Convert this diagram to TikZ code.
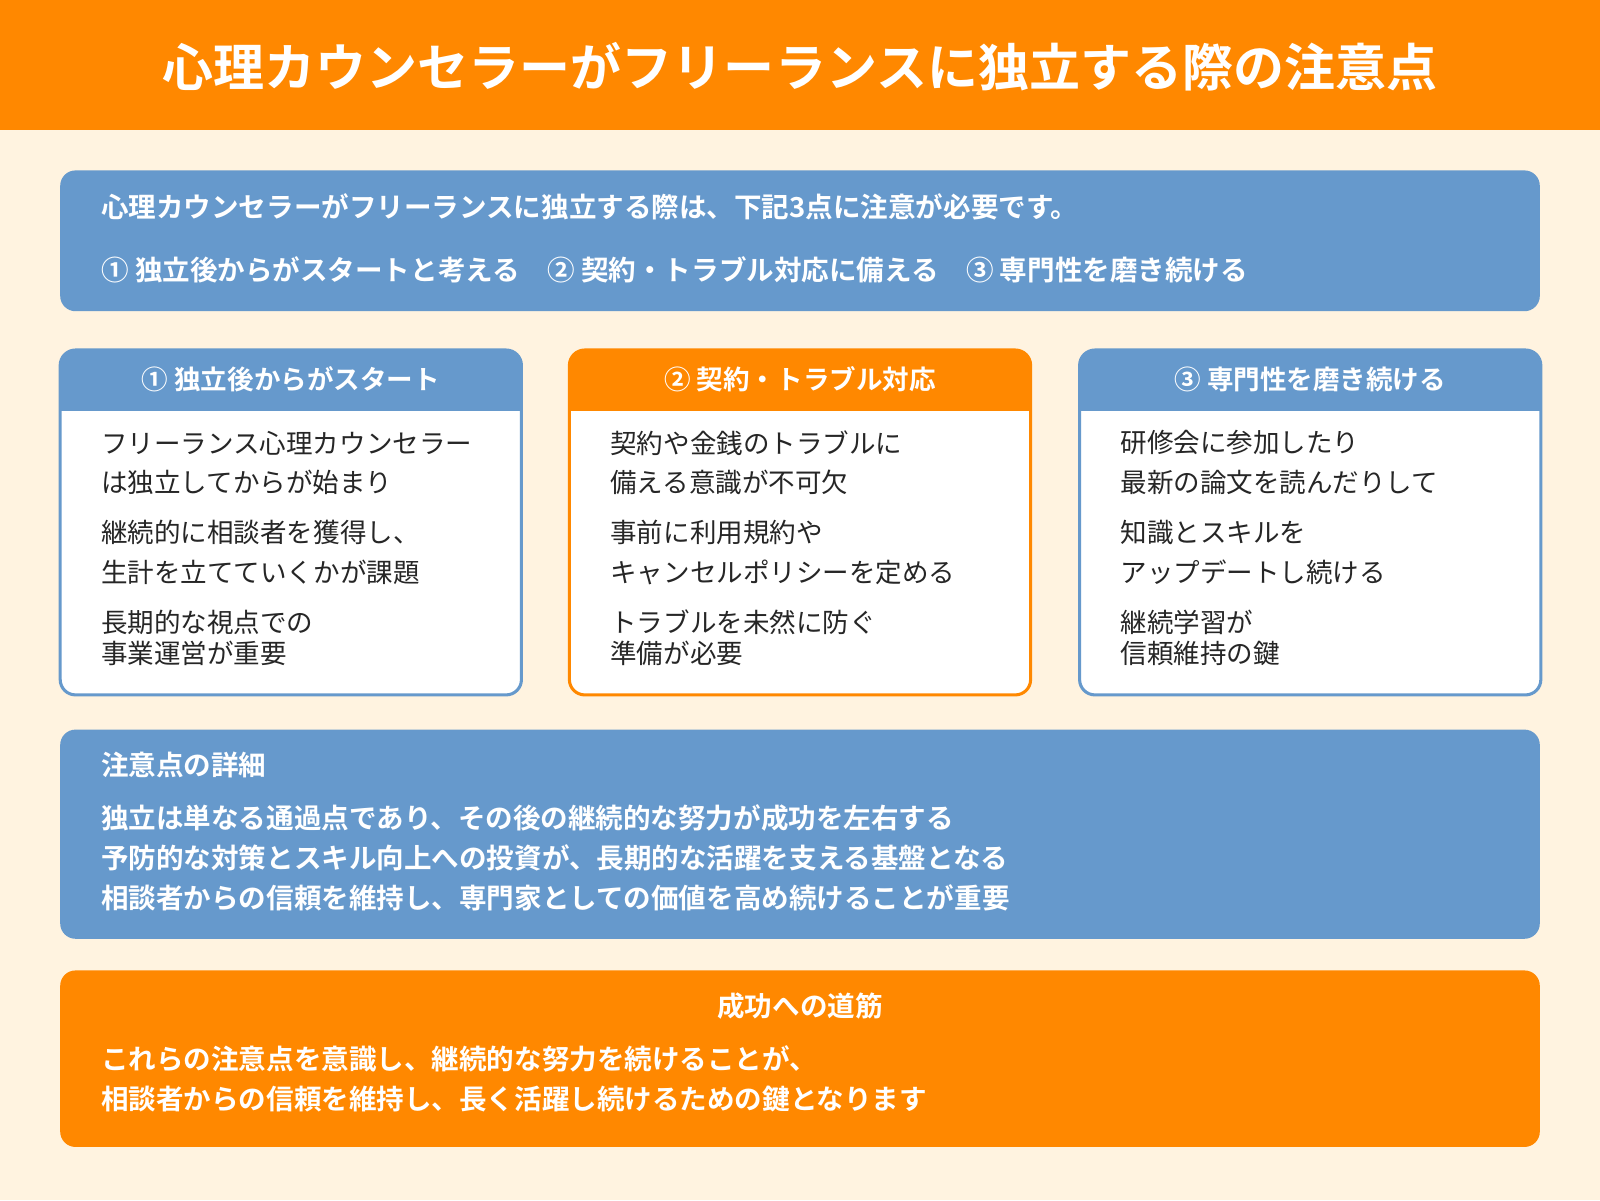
\documentclass[tikz,border=0pt]{standalone}
\usepackage{fontspec}
\setmainfont{Noto Sans CJK JP}
\newfontfamily\bfj{Noto Sans CJK JP Bold}
\definecolor{org}{HTML}{FF8800}
\definecolor{blu}{HTML}{6699CC}
\definecolor{cream}{HTML}{FFF3E0}
\begin{document}
\begin{tikzpicture}[x=1pt,y=-1pt,
  wt/.style={text=white,font=\bfj\fontsize{27}{32}\selectfont,anchor=west,inner sep=0},
  bt/.style={text=black!85,font=\fontsize{26}{31}\selectfont,anchor=west,inner sep=0},
  hd/.style={text=white,font=\bfj\fontsize{26}{30}\selectfont,inner sep=0}]
\useasboundingbox (0,0) rectangle (1568,1176);
\fill[cream] (0,0) rectangle (1568,1176);
\fill[org] (0,0) rectangle (1568,127);
\node[text=white,font=\bfj\fontsize{50}{56}\selectfont] (title) at (784,65) {心理カウンセラーがフリーランスに独立する際の注意点};
% intro
\fill[blu,rounded corners=15] (59,167) rectangle (1509,305);
\node[wt] (i1) at (99,203) {心理カウンセラーがフリーランスに独立する際は、下記3点に注意が必要です。};
\node[wt] (i2) at (99,264) {①  独立後からがスタートと考える　② 契約・トラブル対応に備える　③ 専門性を磨き続ける};
% cards
\foreach \x/\c/\h [count=\i] in {59/blu/{①  独立後からがスタート},558/org/{②  契約・トラブル対応},1058/blu/{③  専門性を磨き続ける}}{
  \fill[white,rounded corners=15] (\x,343) rectangle (\x+452,681);
  \begin{scope}
    \clip[rounded corners=15] (\x,343) rectangle (\x+452,681);
    \fill[\c] (\x,343) rectangle (\x+452,403);
  \end{scope}
  \fill[\c] (\x,398) rectangle (\x+452,403);
  \draw[\c,line width=3,rounded corners=15] (\x,343) rectangle (\x+452,681);
  \node[hd] (h\i) at (\x+226,372) {\h};
}
\node[bt] (a1) at (99,434) {フリーランス心理カウンセラー};
\node[bt] (a2) at (99,473) {は独立してからが始まり};
\node[bt] (a3) at (99,522) {継続的に相談者を獲得し、};
\node[bt] (a4) at (99,561) {生計を立てていくかが課題};
\node[bt] (a5) at (99,610) {長期的な視点での};
\node[bt] (a6) at (99,640) {事業運営が重要};
\node[bt] (b1) at (598,434) {契約や金銭のトラブルに};
\node[bt] (b2) at (598,473) {備える意識が不可欠};
\node[bt] (b3) at (598,522) {事前に利用規約や};
\node[bt] (b4) at (598,561) {キャンセルポリシーを定める};
\node[bt] (b5) at (598,610) {トラブルを未然に防ぐ};
\node[bt] (b6) at (598,640) {準備が必要};
\node[bt] (c1) at (1098,434) {研修会に参加したり};
\node[bt] (c2) at (1098,473) {最新の論文を読んだりして};
\node[bt] (c3) at (1098,522) {知識とスキルを};
\node[bt] (c4) at (1098,561) {アップデートし続ける};
\node[bt] (c5) at (1098,610) {継続学習が};
\node[bt] (c6) at (1098,640) {信頼維持の鍵};
% details
\fill[blu,rounded corners=15] (59,715) rectangle (1509,920);
\node[wt] (d0) at (99,750) {注意点の詳細};
\node[wt] (d1) at (99,802) {独立は単なる通過点であり、その後の継続的な努力が成功を左右する};
\node[wt] (d2) at (99,841) {予防的な対策とスキル向上への投資が、長期的な活躍を支える基盤となる};
\node[wt] (d3) at (99,880) {相談者からの信頼を維持し、専門家としての価値を高め続けることが重要};
% success
\fill[org,rounded corners=15] (59,951) rectangle (1509,1124);
\node[hd,font=\bfj\fontsize{27}{32}\selectfont] (s0) at (784,986) {成功への道筋};
\node[wt] (s1) at (99,1038) {これらの注意点を意識し、継続的な努力を続けることが、};
\node[wt] (s2) at (99,1077) {相談者からの信頼を維持し、長く活躍し続けるための鍵となります};
\end{tikzpicture}
\end{document}
